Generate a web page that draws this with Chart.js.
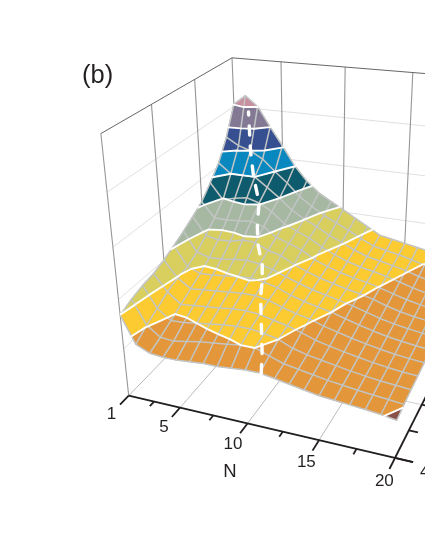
<!DOCTYPE html>
<html>
<head>
<meta charset="utf-8">
<style>
  html, body { margin: 0; padding: 0; background: #fff; }
  canvas { display: block; }
</style>
<script src="https://cdn.jsdelivr.net/npm/chart.js@4"></script>
</head>
<body>
<canvas id="chart" width="425" height="550"></canvas>
<script>
// Axis values
const nValues = [1,2,3,4,5,6,7,8,9,10,11,12,13,14,15,16,17,18,19,20];
const mValues = [4,5,6,7,8,9,10,11,12,13,14,15,16];
const nMajorTicks = [1,5,10,15,20];
const nMinorTicks = [3,7.5,12.5,17.5];
const mMajorTicks = [4,8,12,16];
const mMinorTicks = [6,10,14];
const zGridLines = [20,40,60,80];

// Surface height, one row per M value
const zM4  = [33.8,23,20.5,20,20,20.5,21,21,21.5,22,22,21,20,19,18,17.5,17,16.5,15.9,15];
const zM5  = [36,26.4,22.5,22,23,24,24.6,25.2,26,26,24,22,21,20,19,18.3,17.6,17,16.5,15.9];
const zM6  = [37.5,29,25,25.2,26,26.8,27.5,28,28,27.2,26,23.5,22,21,20,19,18.2,17.5,17,16.5];
const zM7  = [38.4,31.8,27.5,28,28.5,29,29.8,30,29.5,28.2,27,25.3,23.3,22,20.8,19.8,18.8,18,17.4,17];
const zM8  = [40.2,33.6,30,30.5,31,31.5,32,32,31,29.2,27.6,26.5,24.6,23.2,21.8,20.6,19.5,18.6,18,17.5];
const zM9  = [42.5,34.6,32.5,32.8,33.4,33.9,34.3,33.5,32.2,30,28.4,27.2,26,24.3,22.8,21.4,20.2,19.3,18.6,18];
const zM10 = [45,37,35.5,35.8,36.5,37,36.3,34.9,32.8,31,29.2,28,26.7,25.4,23.8,22.2,21,20,19.3,18.6];
const zM11 = [47.8,40.5,39.5,39.7,41,40.8,38.3,37,34.1,32,30.2,28.8,27.4,26.4,25,23.2,21.8,20.7,20,19.2];
const zM12 = [50.8,44.7,44.5,45,45.5,44,40.3,38.5,36.5,33.3,31.2,29.6,28.2,27.2,25.8,24.2,22.7,21.5,20.7,20];
const zM13 = [55.8,49.2,50.5,51.5,50,47,42.7,40.2,38,35,32.5,30.5,29,28,26.8,25.3,23.7,22.4,21.5,20.8];
const zM14 = [61.3,57.3,57.3,57.3,53.5,49.6,45.2,42,39.5,36.5,34.3,31.8,29.8,28.7,27.6,26.3,24.7,23.4,22.4,21.6];
const zM15 = [69.5,66.5,64.9,62,57.3,53,47.9,44.3,41,38.5,36,33.2,30.8,29.6,28.6,27.3,25.8,24.5,23.4,22.5];
const zM16 = [81,85,81,73,65.5,57.5,51.5,47,44,41,38,35,32,31,30,29,28,26.5,25,24];
const surfaceZ = [zM4,zM5,zM6,zM7,zM8,zM9,zM10,zM11,zM12,zM13,zM14,zM15,zM16];

// Contour levels and the colour of each band between them
const bandLevels = [15.7,26,33.9,41.9,49.6,57.3,64.9,72.9,80.8];
const bandColors = ['#8a5048','#e3963a','#fbcb31','#d8cf5e','#a6b8a2','#0e5b6e','#0988c0','#364f91','#837995','#c8909f'];

// White dashed ridge: where it runs on the surface
const ridgeM = [4,5,6,7,8,9,10,11,12,13,14,15,15.75];
const ridgeN = [11.1,10.5,9.8,9.1,8.4,7.85,7.2,6.2,5.5,5.0,3.9,3.0,2.4];

const MESH = '#c2c5c4';
const INK = '#231f20';

// Perspective projection of (N, M, z) into canvas space
function project(n, m, z) {
    const u = (n - 1) / 19, v = (m - 4) / 12, w = z / 100;
    const d = 1 - 0.105 * u + 0.2228 * v - 0.13 * w;
    return {
        x: (128.7 + 224.8 * u + 165.8 * v - 40.95 * w) / d,
        y: (395.7 + 14.2 * u - 53 * v - 279.5 * w) / d
    };
}

function zAt(n, m) {
    const i = Math.min(m - 4, 11.999), j = Math.min(n - 1, 18.999);
    const i0 = Math.floor(i), j0 = Math.floor(j), a = i - i0, b = j - j0;
    return (surfaceZ[i0][j0] * (1 - b) + surfaceZ[i0][j0 + 1] * b) * (1 - a)
         + (surfaceZ[i0 + 1][j0] * (1 - b) + surfaceZ[i0 + 1][j0 + 1] * b) * a;
}

// Keep the part of a polygon above (sign 1) or below (sign -1) a level
function clipPoly(poly, level, sign) {
    const out = [];
    poly.forEach((p, k) => {
        const q = poly[(k + 1) % poly.length];
        const pIn = sign * (p.z - level) >= 0, qIn = sign * (q.z - level) >= 0;
        if (pIn) out.push(p);
        if (pIn !== qIn) out.push(cross(p, q, level));
    });
    return out;
}

function cross(p, q, level) {
    const t = (level - p.z) / (q.z - p.z);
    return { n: p.n + (q.n - p.n) * t, m: p.m + (q.m - p.m) * t, z: level };
}

const datasets = [];

function addLine(points, color, width, extra) {
    datasets.push(Object.assign({
        data: points,
        showLine: true,
        borderColor: color,
        borderWidth: width,
        pointRadius: 0,
        fill: false
    }, extra || {}));
}

function seg3d(a, b, color, width) {
    addLine([project(a[0], a[1], a[2]), project(b[0], b[1], b[2])], color, width);
}

// Walls and floor
const nLast = nValues[nValues.length - 1], mLast = mValues[mValues.length - 1];
zGridLines.forEach(z => {
    seg3d([1, 4, z], [1, mLast, z], '#dcdcdc', 0.9);
    seg3d([1, mLast, z], [nLast, mLast, z], '#dcdcdc', 0.9);
});
mMajorTicks.forEach(m => {
    seg3d([1, m, 0], [1, m, 100], '#969696', 1.1);
    seg3d([1, m, 0], [nLast, m, 0], '#c4c4c4', 0.8);
});
nMajorTicks.forEach(n => {
    seg3d([n, 4, 0], [n, mLast, 0], '#a8a8a8', 0.8);
});
nMajorTicks.slice(1).forEach(n => {
    seg3d([n, mLast, 0], [n, mLast, 100], '#969696', 1.1);
});
seg3d([1, 4, 100], [1, mLast, 100], '#555555', 0.9);
seg3d([1, mLast, 100], [nLast, mLast, 100], '#555555', 0.9);

// Axes and ticks
seg3d([1, 4, 0], [21.15, 4, 0], INK, 1.8);
seg3d([20, 4, 0], [20, mLast, 0], INK, 1.8);
nMajorTicks.forEach(n => seg3d([n, 4, 0], [n, 3.25, 0], INK, 1.8));
nMinorTicks.forEach(n => seg3d([n, 4, 0], [n, 3.62, 0], INK, 1.8));
mMajorTicks.forEach(m => seg3d([20, m, 0], [21.15, m, 0], INK, 1.8));
mMinorTicks.forEach(m => seg3d([20, m, 0], [20.6, m, 0], INK, 1.8));

// Surface cells, split into colour bands
for (let i = mValues.length - 2; i >= 0; i--) {
    for (let j = 0; j < nValues.length - 1; j++) {
        const quad = [[j, i], [j + 1, i], [j + 1, i + 1], [j, i + 1]].map(c => ({
            n: nValues[c[0]], m: mValues[c[1]], z: surfaceZ[c[1]][c[0]]
        }));
        bandColors.forEach((color, k) => {
            let poly = quad;
            if (k > 0) poly = clipPoly(poly, bandLevels[k - 1], 1);
            if (poly.length && k < bandLevels.length) poly = clipPoly(poly, bandLevels[k], -1);
            if (poly.length < 3) return;
            const pts = poly.map(p => project(p.n, p.m, p.z));
            pts.push(pts[0]);
            addLine(pts, color, 0.6, { backgroundColor: color, fill: 'shape' });
        });
    }
}

// Mesh lines
mValues.forEach(m => addLine(nValues.map(n => project(n, m, surfaceZ[m - 4][n - 1])), MESH, 1.5));
nValues.forEach(n => addLine(mValues.map(m => project(n, m, surfaceZ[m - 4][n - 1])), MESH, 1.5));

// White contour lines, one dataset per level with gaps between cells
bandLevels.forEach(level => {
    const pts = [];
    for (let i = 0; i < mValues.length - 1; i++) {
        for (let j = 0; j < nValues.length - 1; j++) {
            const quad = [[j, i], [j + 1, i], [j + 1, i + 1], [j, i + 1]].map(c => ({
                n: nValues[c[0]], m: mValues[c[1]], z: surfaceZ[c[1]][c[0]]
            }));
            const hits = [];
            quad.forEach((p, k) => {
                const q = quad[(k + 1) % 4];
                if ((p.z >= level) !== (q.z >= level)) hits.push(cross(p, q, level));
            });
            for (let h = 0; h + 1 < hits.length; h += 2) {
                pts.push(project(hits[h].n, hits[h].m, level));
                pts.push(project(hits[h + 1].n, hits[h + 1].m, level));
                pts.push({ x: NaN, y: NaN });
            }
        }
    }
    addLine(pts, '#ffffff', 1.9, { spanGaps: false, borderCapStyle: 'round' });
});

// Dashed ridge line
addLine(ridgeM.map((m, i) => project(ridgeN[i], m, zAt(ridgeN[i], m))), '#ffffff', 3.4, {
    borderDash: [9, 11],
    borderCapStyle: 'round'
});

// First dataset is drawn on top in Chart.js, so the order runs backwards
datasets.forEach((ds, i) => { ds.order = datasets.length - i; });

const axisText = {
    id: 'axisText',
    afterDatasetsDraw(chart) {
        const { ctx, scales: { x, y } } = chart;
        const put = (text, px, py, font, align) => {
            ctx.font = font;
            ctx.textAlign = align || 'center';
            ctx.textBaseline = 'middle';
            ctx.fillStyle = INK;
            ctx.fillText(text, x.getPixelForValue(px), y.getPixelForValue(py));
        };
        ctx.save();
        nMajorTicks.forEach(n => {
            const p = project(n, 2.45, 0);
            put(String(n), p.x + 1, p.y, '17px "Liberation Sans"');
        });
        mMajorTicks.forEach(m => {
            const p = project(22, m - 0.6, 0);
            put(String(m), p.x + 2, p.y - 2, '17px "Liberation Sans"');
        });
        put('N', 230, 472, '18.5px "Liberation Sans"');
        put('(b)', 82, 76, '25.5px "Liberation Sans"', 'left');
        ctx.restore();
    }
};

new Chart(document.getElementById('chart'), {
    type: 'scatter',
    data: { datasets },
    plugins: [axisText],
    options: {
        responsive: false,
        animation: false,
        layout: { padding: 0 },
        plugins: { legend: { display: false }, tooltip: { enabled: false } },
        elements: { line: { tension: 0, borderJoinStyle: 'round' } },
        scales: {
            x: { type: 'linear', min: 0, max: 425, display: false },
            y: { type: 'linear', min: 0, max: 550, reverse: true, display: false }
        }
    }
});
</script>
</body>
</html>
